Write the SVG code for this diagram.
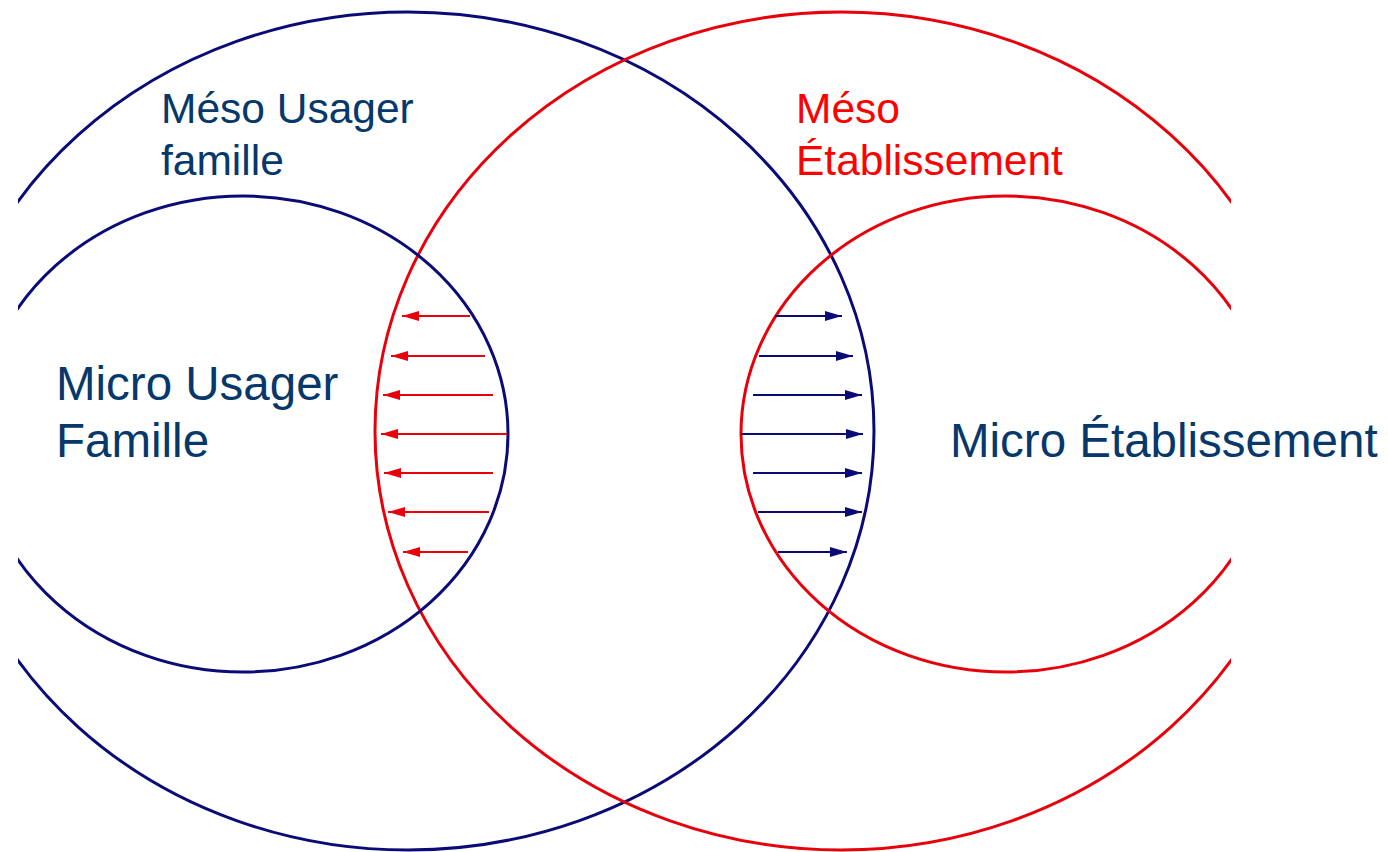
<svg xmlns="http://www.w3.org/2000/svg" width="1388" height="852" viewBox="0 0 1388 852">
<defs>
<clipPath id="clip"><rect x="18" y="0" width="1213" height="852"/></clipPath>
<marker id="ah-red" viewBox="0 0 17 10" refX="17" refY="5" markerWidth="17" markerHeight="10" markerUnits="userSpaceOnUse" orient="auto"><path d="M0,0 L17,5 L0,10 Z" fill="#e8000b"/></marker>
<marker id="ah-blue" viewBox="0 0 17 10" refX="17" refY="5" markerWidth="17" markerHeight="10" markerUnits="userSpaceOnUse" orient="auto"><path d="M0,0 L17,5 L0,10 Z" fill="#0b0b78"/></marker>
</defs>
<style>
.blue{fill:none;stroke:#0b0b78;stroke-width:3}
.red{fill:none;stroke:#e8000b;stroke-width:3}
.ar{stroke:#e8000b;stroke-width:2;marker-end:url(#ah-red)}
.ab{stroke:#0b0b78;stroke-width:2;marker-end:url(#ah-blue)}
text{font-family:"Liberation Sans",Arial,sans-serif}
.tb{fill:#06386b}
.tr{fill:#ff0000}
.meso{font-size:42.5px}
.micro{font-size:47.5px}
</style>
<rect width="1388" height="852" fill="#ffffff"/>
<g clip-path="url(#clip)">
<g id="meso-usager"><ellipse class="blue" cx="408" cy="431" rx="466" ry="419"/></g>
<g id="meso-etablissement"><ellipse class="red" cx="841" cy="431" rx="466" ry="419"/></g>
<g id="micro-usager"><ellipse class="blue" cx="243" cy="434" rx="265" ry="238"/></g>
<g id="micro-etablissement"><ellipse class="red" cx="1006" cy="434" rx="265" ry="238"/></g>
</g>
<g id="connectors">
<line class="ar" x1="470" y1="316" x2="402" y2="316"/>
<line class="ar" x1="485" y1="356" x2="391" y2="356"/>
<line class="ar" x1="493" y1="395" x2="383" y2="395"/>
<line class="ar" x1="507" y1="434" x2="381" y2="434"/>
<line class="ar" x1="493" y1="473" x2="384" y2="473"/>
<line class="ar" x1="489" y1="512" x2="388" y2="512"/>
<line class="ar" x1="468" y1="552" x2="403" y2="552"/>
<line class="ab" x1="775" y1="316" x2="842" y2="316"/>
<line class="ab" x1="759" y1="356" x2="853" y2="356"/>
<line class="ab" x1="753" y1="395" x2="862" y2="395"/>
<line class="ab" x1="741" y1="434" x2="863" y2="434"/>
<line class="ab" x1="753" y1="473" x2="862" y2="473"/>
<line class="ab" x1="758" y1="512" x2="862" y2="512"/>
<line class="ab" x1="778" y1="552" x2="847" y2="552"/>
</g>
<g id="labels">
<text class="tb meso" x="161" y="123">Méso Usager</text>
<text class="tb meso" x="161" y="175">famille</text>
<text class="tr meso" x="796" y="123">Méso</text>
<text class="tr meso" x="796" y="175">Établissement</text>
<text class="tb micro" x="56" y="400">Micro Usager</text>
<text class="tb micro" x="56" y="457">Famille</text>
<text class="tb micro" x="950" y="457">Micro Établissement</text>
</g>
</svg>
